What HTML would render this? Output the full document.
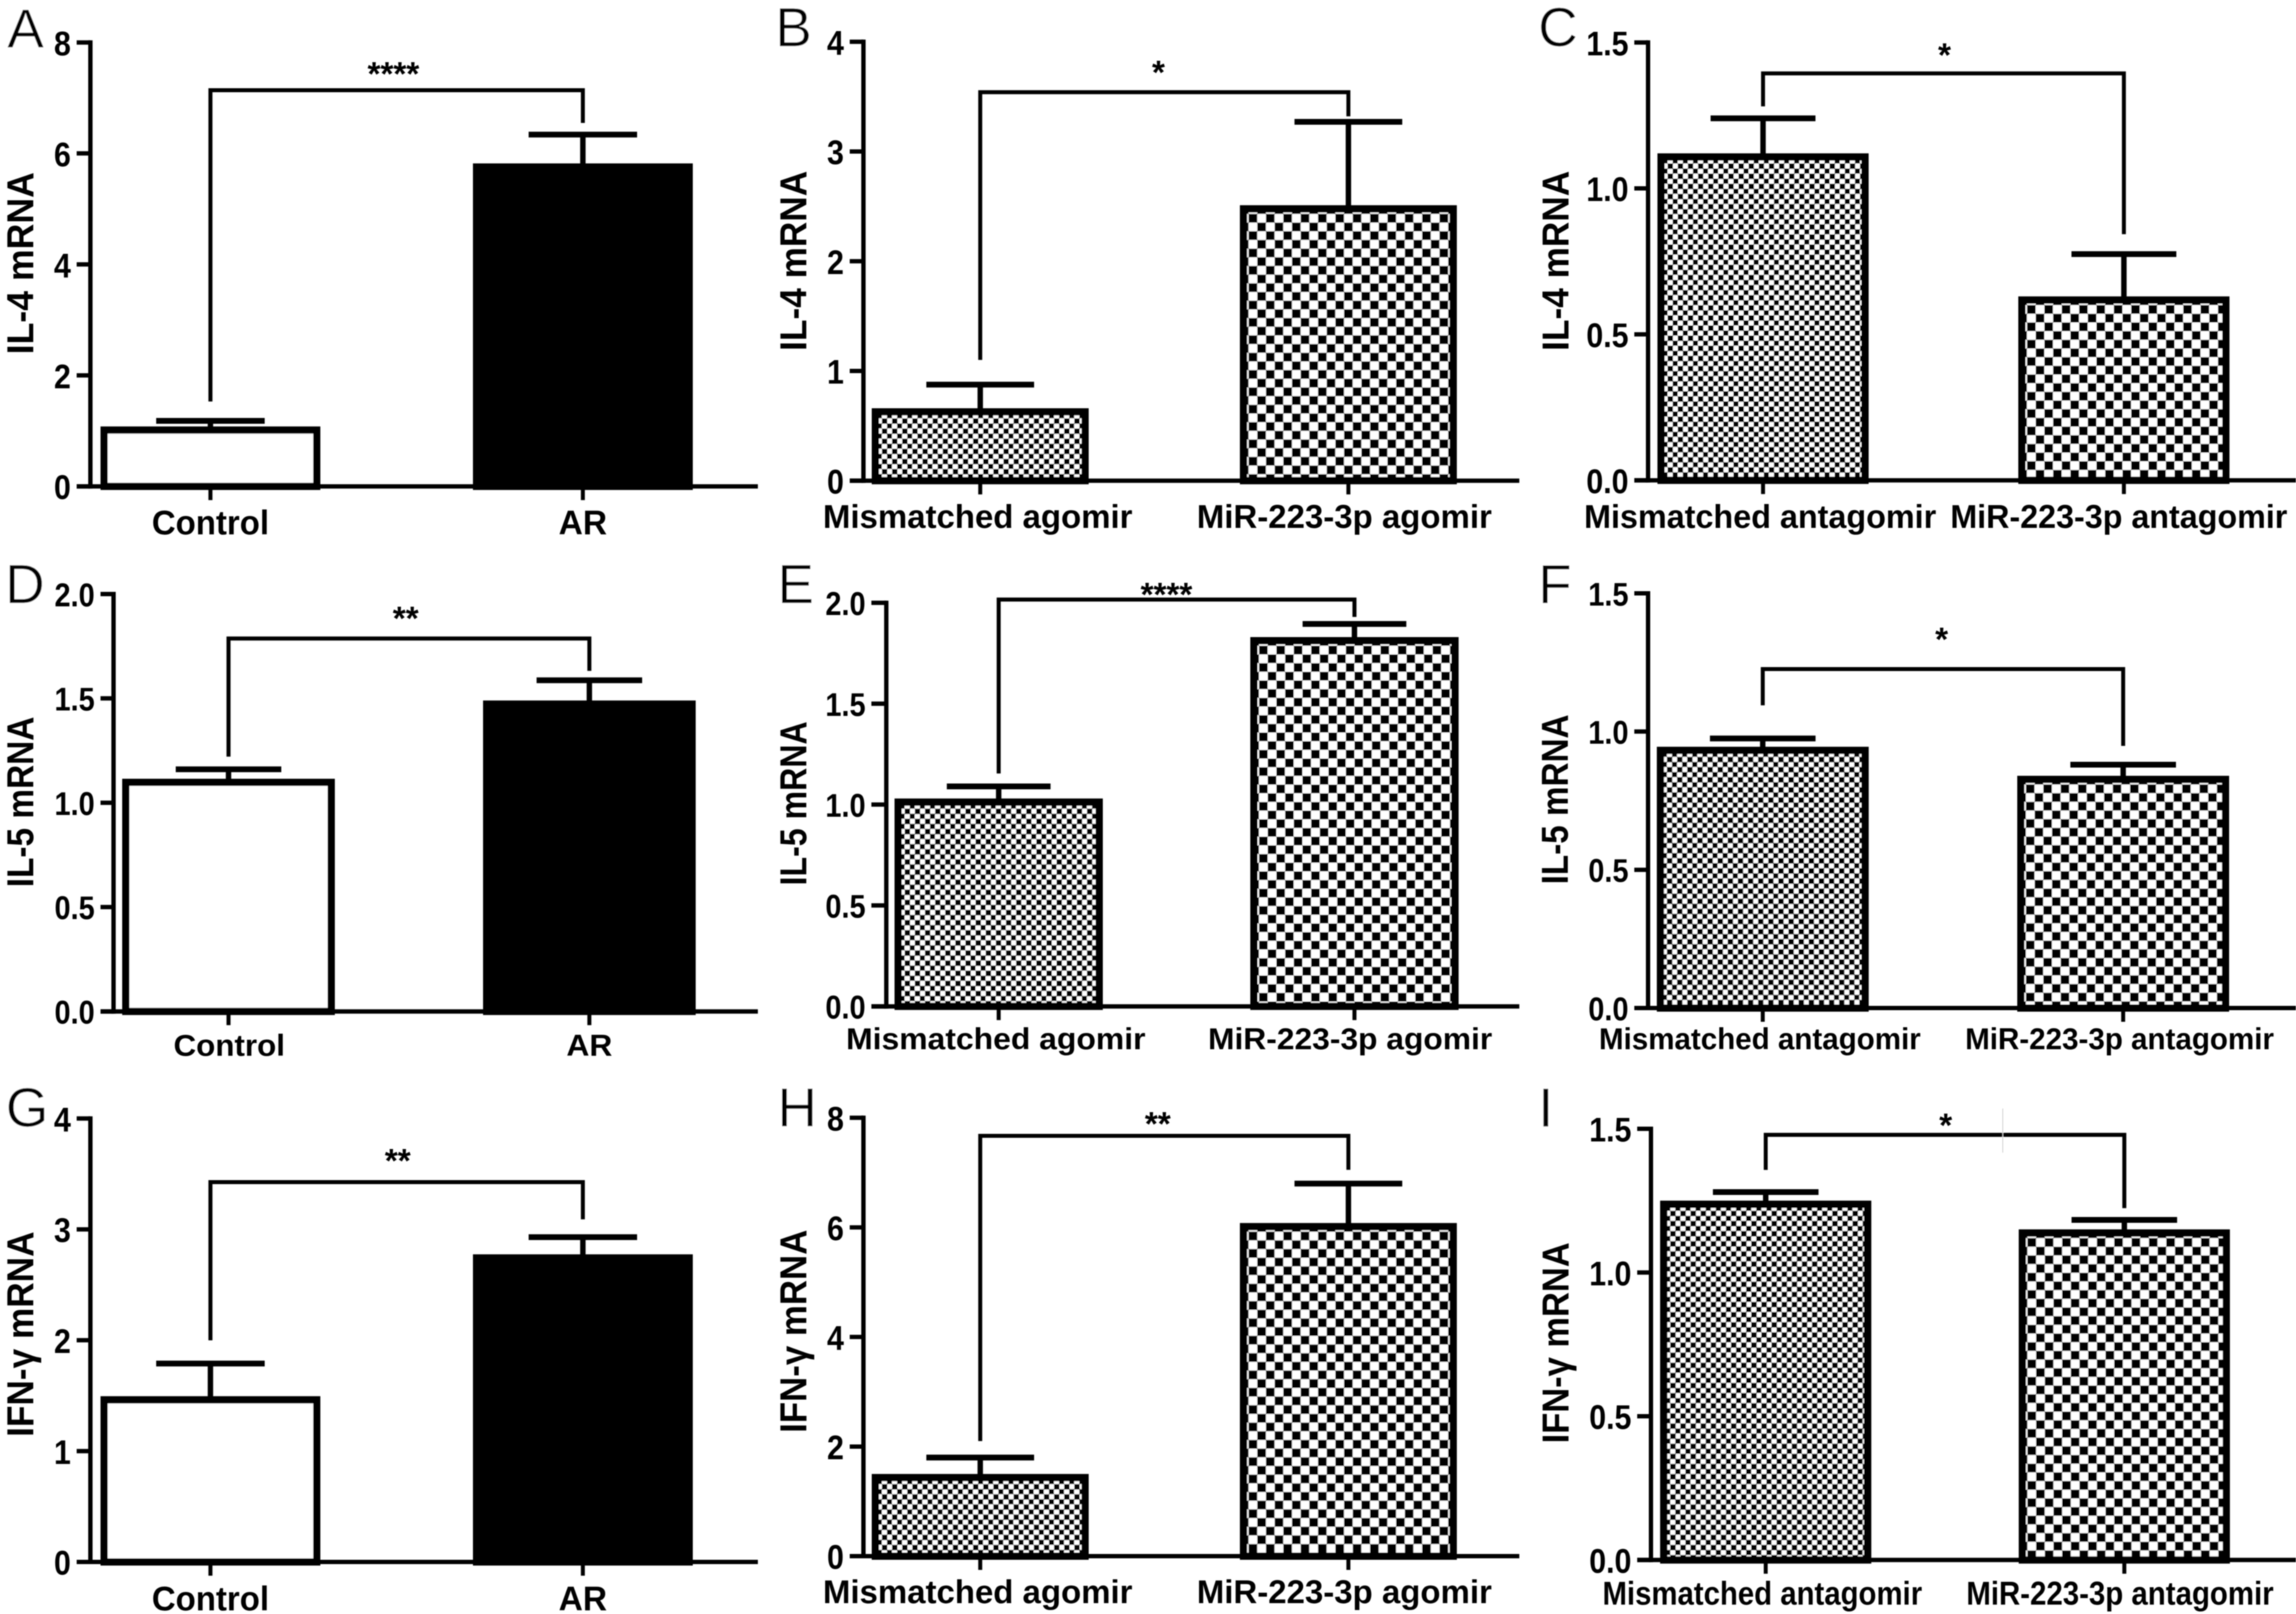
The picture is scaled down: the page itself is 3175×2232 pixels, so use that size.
<!DOCTYPE html>
<html lang="en">
<head>
<meta charset="utf-8">
<title>IL-4, IL-5 and IFN-γ mRNA bar charts</title>
<style>
html,body{margin:0;padding:0;background:#fff;}
body{width:3175px;height:2232px;overflow:hidden;}
svg{display:block;}
text{font-family:"Liberation Sans","DejaVu Sans",sans-serif;fill:#000;}
</style>
</head>
<body>
<svg id="figure" xmlns="http://www.w3.org/2000/svg" width="3175" height="2232" viewBox="0 0 3175 2232">
  <defs>
    <pattern id="hatch-fine" patternUnits="userSpaceOnUse" width="14" height="14">
      <rect width="14" height="14" fill="#fff"/>
      <rect x="0" y="0" width="7.5" height="7.5" fill="#000"/>
      <rect x="7" y="7" width="7.5" height="7.5" fill="#000"/>
    </pattern>
    <pattern id="hatch-coarse" patternUnits="userSpaceOnUse" width="24" height="24">
      <rect width="24" height="24" fill="#fff"/>
      <rect x="0" y="0" width="12" height="12" fill="#000"/>
      <rect x="12" y="12" width="12" height="12" fill="#000"/>
    </pattern>
    <filter id="soften" filterUnits="userSpaceOnUse" x="0" y="0" width="3175" height="2232">
      <feGaussianBlur stdDeviation="0.8"/>
    </filter>
  </defs>
  <rect width="3175" height="2232" fill="#fff"/>
  <g id="root" filter="url(#soften)"></g>
</svg>
<script>
// ---- chart data ----
const panelLetters = ['A','B','C','D','E','F','G','H','I'];
const yTitles = ['IL-4 mRNA','IL-4 mRNA','IL-4 mRNA','IL-5 mRNA','IL-5 mRNA','IL-5 mRNA','IFN-γ mRNA','IFN-γ mRNA','IFN-γ mRNA'];
const categoriesControl = ['Control','AR'];
const categoriesAgomir = ['Mismatched agomir','MiR-223-3p agomir'];
const categoriesAntagomir = ['Mismatched antagomir','MiR-223-3p antagomir'];
const categories = [categoriesControl,categoriesAgomir,categoriesAntagomir,categoriesControl,categoriesAgomir,categoriesAntagomir,categoriesControl,categoriesAgomir,categoriesAntagomir];
const yTickLabels = [
  ['0','2','4','6','8'],
  ['0','1','2','3','4'],
  ['0.0','0.5','1.0','1.5'],
  ['0.0','0.5','1.0','1.5','2.0'],
  ['0.0','0.5','1.0','1.5','2.0'],
  ['0.0','0.5','1.0','1.5'],
  ['0','1','2','3','4'],
  ['0','2','4','6','8'],
  ['0.0','0.5','1.0','1.5']
];
const barValues = [
  [1.08,5.82],[0.66,2.51],[1.12,0.63],
  [1.115,1.49],[1.03,1.83],[0.945,0.84],
  [1.495,2.775],[1.50,6.08],[1.25,1.15]
];
const errorTops = [
  [1.18,6.34],[0.875,3.27],[1.24,0.775],
  [1.16,1.587],[1.09,1.895],[0.975,0.88],
  [1.79,2.93],[1.80,6.80],[1.28,1.183]
];
const bracketTops = [7.14,3.54,1.394,1.787,2.016,1.226,3.426,7.67,1.479];
const bracketLeftEnds = [1.53,1.10,1.281,1.221,1.154,1.095,1.999,2.10,1.357];
const bracketRightEnds = [6.55,3.32,0.843,1.632,1.93,0.948,3.09,7.05,1.224];
const significance = ['****','*','*','**','****','*','**','**','*'];
const barFills = [
  ['#fff','#000'],['url(#hatch-fine)','url(#hatch-coarse)'],['url(#hatch-fine)','url(#hatch-coarse)'],
  ['#fff','#000'],['url(#hatch-fine)','url(#hatch-coarse)'],['url(#hatch-fine)','url(#hatch-coarse)'],
  ['#fff','#000'],['url(#hatch-fine)','url(#hatch-coarse)'],['url(#hatch-fine)','url(#hatch-coarse)']
];

// ---- layout of each panel (pixel geometry only) ----
const layouts = [
 {x:125,top:58.7,y0:672.6,xEnd:1048,tl:106,c:[291,806],hw:152,cap:75,star:[544,92],lx:10,ly:66,tx:46,ty:364,tw:252,fs:42,xfs:47,xb:739,xc:[291,806],xw:[162,67]},
 {x:1194,top:57.7,y0:664.7,xEnd:2101,tl:1175,c:[1355.5,1864.6],hw:150,cap:74.5,star:[1602,90],lx:1072,ly:64,tx:1115,ty:360.7,tw:249,fs:42,xfs:45,xb:730,xc:[1352,1859],xw:[428,408]},
 {x:2279,top:58.7,y0:664.2,xEnd:3175,tl:2260,c:[2438,2937],hw:146,cap:72.5,star:[2689,66],lx:2127,ly:64,tx:2169,ty:360.7,tw:249,fs:42,xfs:45,xb:730,xc:[2434,2930],xw:[487,466]},
 {x:157,top:821.5,y0:1398.7,xEnd:1048,tl:139,c:[316,815],hw:147,cap:73,star:[561,845],lx:7,ly:834,tx:46,ty:1109,tw:236,fs:40,xfs:42,xb:1460,xc:[317,815],xw:[154,63.5]},
 {x:1225.6,top:833.6,y0:1391.7,xEnd:2101,tl:1205,c:[1381,1873],hw:144,cap:71.7,star:[1613,812],lx:1075,ly:834,tx:1115,ty:1111,tw:227,fs:40,xfs:42,xb:1451,xc:[1377,1867],xw:[414,393]},
 {x:2279,top:820.5,y0:1394,xEnd:3175,tl:2260,c:[2437.6,2936],hw:146.5,cap:73,star:[2685,874],lx:2127,ly:834,tx:2168,ty:1105.5,tw:235,fs:40,xfs:42,xb:1451,xc:[2433.6,2931],xw:[445,427]},
 {x:125,top:1546.8,y0:2160,xEnd:1048,tl:106,c:[291,806],hw:152,cap:75,star:[550,1595],lx:8,ly:1558,tx:46,ty:1845,tw:284,fs:42,xfs:47,xb:2227,xc:[291,806],xw:[162,67]},
 {x:1194,top:1545.8,y0:2152,xEnd:2101,tl:1175,c:[1355.5,1864.6],hw:150,cap:74.5,star:[1601,1544],lx:1075,ly:1558,tx:1115,ty:1841,tw:281,fs:42,xfs:45,xb:2217,xc:[1352,1859],xw:[428,408]},
 {x:2283,top:1561,y0:2157.3,xEnd:3175,tl:2264,c:[2441.7,2937.6],hw:146,cap:73,star:[2690.6,1546],lx:2127,ly:1558,tx:2169,ty:1857,tw:278,fs:42,xfs:45,xb:2219,xc:[2437,2931.6],xw:[442,425]}
];

const SVGNS = 'http://www.w3.org/2000/svg';
const root = document.getElementById('root');

function make(tag, attrs, parent, content){
  const node = document.createElementNS(SVGNS, tag);
  for (const k in attrs) node.setAttribute(k, attrs[k]);
  if (content !== undefined) node.textContent = content;
  parent.appendChild(node);
  return node;
}

panelLetters.forEach(function(letter, p){
  const L = layouts[p];
  const ticks = yTickLabels[p].map(Number);
  const yMax = ticks[ticks.length - 1];
  const yScale = function(v){ return L.y0 - (v / yMax) * (L.y0 - L.top); };
  const id = letter.toLowerCase();

  const panel = make('g', {}, root);
  
  

  const letterEl = make('text', {x:L.lx, y:L.ly, 'font-size':76, stroke:'#fff', 'stroke-width':0.6}, panel, letter);
  
  

  const title = make('text', {
    transform:'translate(' + L.tx + ',' + L.ty + ') rotate(-90)',
    'text-anchor':'middle','font-size':52,'font-weight':'bold',
    textLength:L.tw, lengthAdjust:'spacingAndGlyphs'
  }, panel, yTitles[p]);
  
  

  // error bars beneath the bars
  barValues[p].forEach(function(v, i){
    const cx = L.c[i];
    const stem = make('line', {x1:cx, x2:cx, y1:yScale(v)+4, y2:yScale(errorTops[p][i]), stroke:'#000','stroke-width':7.5}, panel);
    
    
    const cap = make('line', {x1:cx-L.cap, x2:cx+L.cap, y1:yScale(errorTops[p][i]), y2:yScale(errorTops[p][i]), stroke:'#000','stroke-width':8}, panel);
    
    
  });

  // bars
  barValues[p].forEach(function(v, i){
    const left = L.c[i] - L.hw;
    const topY = yScale(v);
    const g = make('g', {transform:'translate(' + left + ',' + topY + ')'}, panel);
    const bar = make('rect', {
      x:5, y:5, width:L.hw*2-10, height:L.y0-topY-5,
      fill:barFills[p][i], stroke:'#000','stroke-width':10
    }, g);
    
    
  });

  // axes
  const yAxis = make('line', {x1:L.x, x2:L.x, y1:L.top-3, y2:L.y0+3, stroke:'#000','stroke-width':6}, panel);
  
  
  const xAxis = make('line', {x1:L.tl, x2:L.xEnd, y1:L.y0, y2:L.y0, stroke:'#000','stroke-width':6}, panel);
  
  

  yTickLabels[p].forEach(function(label, t){
    const yy = yScale(ticks[t]);
    const tick = make('line', {x1:L.tl, x2:L.x, y1:yy, y2:yy, stroke:'#000','stroke-width':6}, panel);
    
    
    const w = label.length === 1 ? 0.556 * L.fs : 1.39 * L.fs;
    const txt = make('text', {
      x:L.tl-8, y:yy+L.fs*0.42, 'text-anchor':'end','font-size':L.fs+5,'font-weight':'bold',
      textLength:w, lengthAdjust:'spacingAndGlyphs'
    }, panel, label);
    
    
  });

  categories[p].forEach(function(cat, i){
    const tick = make('line', {x1:L.c[i], x2:L.c[i], y1:L.y0, y2:L.y0+19, stroke:'#000','stroke-width':5.5}, panel);
    
    
    const txt = make('text', {
      x:L.xc[i], y:L.xb, 'text-anchor':'middle','font-size':L.xfs,'font-weight':'bold',
      textLength:L.xw[i], lengthAdjust:'spacingAndGlyphs'
    }, panel, cat);
    
    
  });

  // significance bracket
  const d = 'M' + L.c[0] + ' ' + yScale(bracketLeftEnds[p]) +
            'L' + L.c[0] + ' ' + yScale(bracketTops[p]) +
            'L' + L.c[1] + ' ' + yScale(bracketTops[p]) +
            'L' + L.c[1] + ' ' + yScale(bracketRightEnds[p]);
  const bracket = make('path', {d:d, fill:'none', stroke:'#000','stroke-width':5.5}, panel);
  
  
  const star = make('text', {x:L.star[0], y:L.star[1]+26, 'text-anchor':'middle','font-size':46,'font-weight':'bold'}, panel, significance[p]);
  
  
});

const seam = make('rect', {x:2769, y:1533, width:1, height:61, fill:'#c8c8c8'}, root);


</script>
</body>
</html>
